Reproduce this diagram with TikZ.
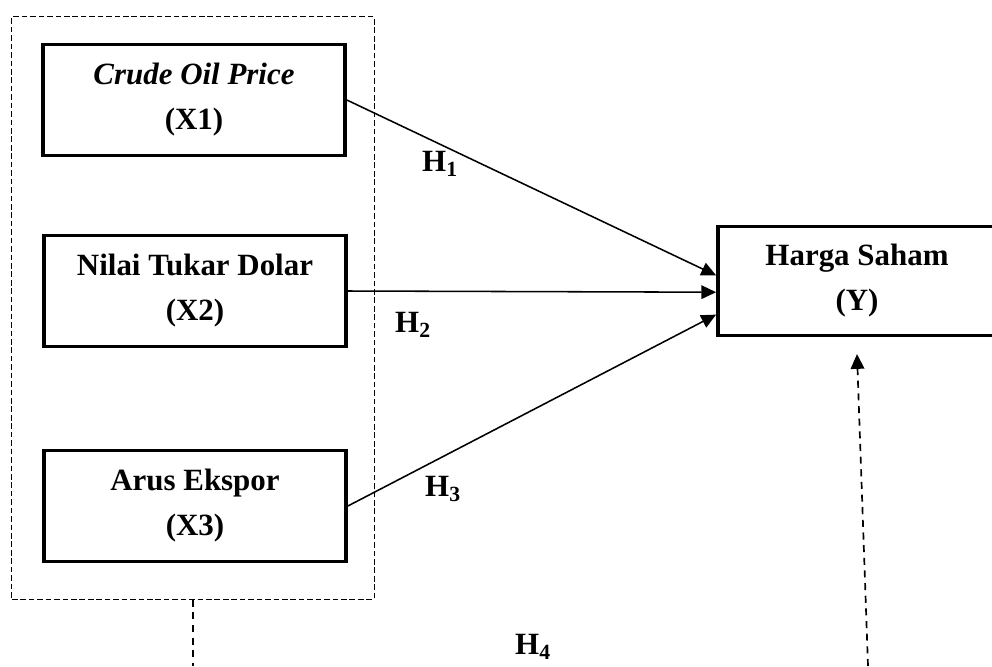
\documentclass[tikz,border=0pt]{standalone}
\usepackage{fontspec}
\setmainfont{Liberation Serif}
\usepackage{tikz}
\usetikzlibrary{arrows.meta,positioning,calc}

\begin{document}
\begin{tikzpicture}[x=0.025cm,y=-0.025cm,
  var/.style={draw,line width=2.6pt,minimum width=7.55cm,minimum height=2.78cm,
              align=center,font=\fontsize{22}{32}\selectfont\bfseries,inner sep=0pt},
  hyp/.style={font=\fontsize{22}{24}\selectfont\bfseries,inner sep=0pt},
  link/.style={-{Triangle[length=0.37cm,width=0.34cm]},line width=1.1pt},
  grpline/.style={line width=0.75pt,dash pattern=on 4pt off 2pt},
  pathline/.style={line width=1.2pt,dash pattern=on 5pt off 4pt}]

\useasboundingbox (0,0) rectangle (992,666);

% ------------- variables -------------
\node[var] (x1) at (194,100) {\textit{Crude Oil Price}\\(X1)};
\node[var] (x2) at (195,291) {Nilai Tukar Dolar\\(X2)};
\node[var] (x3) at (195,506) {Arus Ekspor\\(X3)};
\node[var,minimum width=6.95cm,minimum height=2.72cm] (y) at (857,281)
  {Harga Saham\\(Y)};

% group of independent variables
\node[draw,grpline,minimum width=9.05cm,minimum height=14.55cm] (grp) at (193,308) {};

% ------------- hypotheses -------------
\draw[link] (x1.east) -- ([yshift=0.14cm]y.west);
\draw[link] (x2.east) -- ([yshift=-0.28cm]y.west);
\draw[link] (x3.east) -- ([yshift=-0.84cm]y.west);

\node[hyp] (h1) at (440,164) {H\textsubscript{1}};
\node[hyp] (h2) at (413,325) {H\textsubscript{2}};
\node[hyp] (h3) at (443,489) {H\textsubscript{3}};
\node[hyp] (h4) at (533,647) {H\textsubscript{4}};

% simultaneous path
\coordinate (bl) at (193,666);
\coordinate (br) at (868,666);
\draw[pathline] (grp.south) -- (bl);
\draw[pathline,-{Triangle[length=0.37cm,width=0.34cm]}] (br) -- ([yshift=-0.42cm]y.south);

\end{tikzpicture}
\end{document}
